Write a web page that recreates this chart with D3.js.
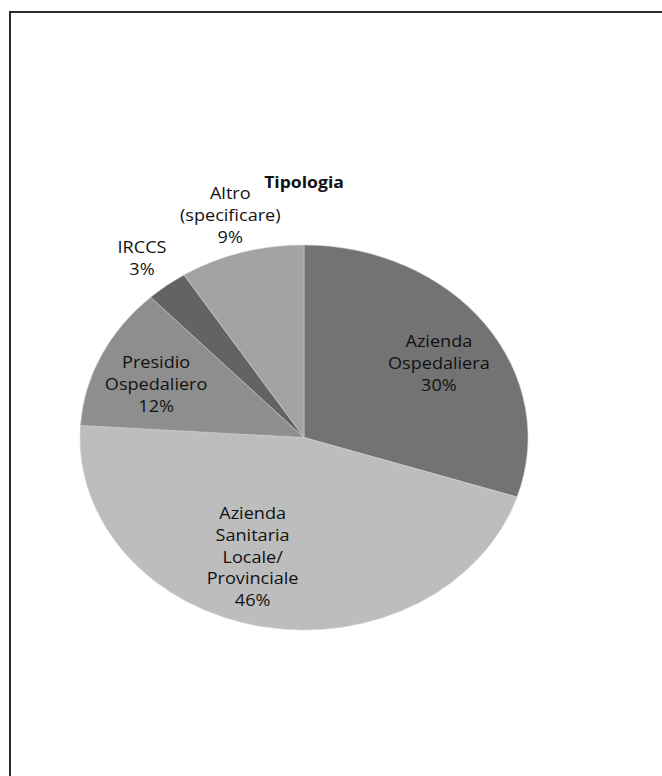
<!DOCTYPE html>
<html>
<head>
<meta charset="utf-8">
<script src="https://cdn.jsdelivr.net/npm/d3@7"></script>
<style>
  html, body { margin: 0; padding: 0; background: #fff; }
  svg { display: block; }
</style>
</head>
<body>
<div id="chart"></div>
<script>
// Tipologia - pie chart, slices clockwise from 12 o'clock
const categories = [
  ["Azienda", "Ospedaliera"],
  ["Azienda", "Sanitaria", "Locale/", "Provinciale"],
  ["Presidio", "Ospedaliero"],
  ["IRCCS"],
  ["Altro", "(specificare)"]
];
const values = [30, 46, 12, 3, 9];
const colors = ["#737373", "#bdbdbd", "#8e8e8e", "#636363", "#a3a3a3"];
const title = "Tipologia";

const W = 662, H = 776;
const cx = 304, cy = 437.5;
const rx = 224, ry = 192.5;
const FONT = "'Open Sans', 'DejaVu Sans', sans-serif";

// Excel "best fit" shifts a couple of labels off the slice mid-angle
const labelNudge = { 0: [8, 5], 1: [-22, -13], 2: [-6, 4], 4: [0, -4] };

const svg = d3.select("#chart")
  .append("svg")
    .attr("width", W)
    .attr("height", H);

// frame (only top and left edges fall inside the picture)
svg.append("path")
  .attr("d", `M10,${H} V12 H${W}`)
  .attr("fill", "none")
  .attr("stroke", "#2b2b2b")
  .attr("stroke-width", 2);

const pie = d3.pie().sort(null).value(d => d)(values);

const arcFn = d3.arc().innerRadius(0).outerRadius(rx);

// pie drawn as a circle, squashed vertically into an ellipse
const pieG = svg.append("g")
  .attr("transform", `translate(${cx},${cy}) scale(1,${ry / rx})`);

pieG.selectAll("path")
  .data(pie)
  .join("path")
    .attr("d", arcFn)
    .attr("fill", (d, i) => colors[i])
    .attr("stroke", "#d0d0d0")
    .attr("stroke-width", 0.6);

// labels: inside for larger slices, outside for small ones
const lineH = 21.8;
const labelG = svg.append("g")
  .attr("font-family", FONT)
  .attr("font-size", "16px")
  .attr("fill", "#111");

pie.forEach((d, i) => {
  const mid = (d.startAngle + d.endAngle) / 2;
  const k = values[i] < 10 ? 1.18 : 0.7;
  const [nx, ny] = labelNudge[i] || [0, 0];
  const x = cx + Math.sin(mid) * rx * k + nx;
  const y = cy - Math.cos(mid) * ry * k + ny;
  const lines = categories[i].concat([`${values[i]}%`]);
  const t = labelG.append("text")
    .attr("text-anchor", "middle")
    .attr("transform", `translate(${x},${y}) scale(1.13,1)`);
  lines.forEach((s, j) => {
    t.append("tspan")
      .attr("x", 0)
      .attr("y", (j - (lines.length - 1) / 2) * lineH)
      .attr("dy", "0.36em")
      .text(s);
  });
});

svg.append("text")
  .attr("transform", "translate(304,182) scale(1.1,1)")
  .attr("dy", "0.36em")
  .attr("text-anchor", "middle")
  .attr("font-family", FONT)
  .attr("font-size", "16px")
  .attr("font-weight", "700")
  .attr("fill", "#111")
  .text(title);
</script>
</body>
</html>
